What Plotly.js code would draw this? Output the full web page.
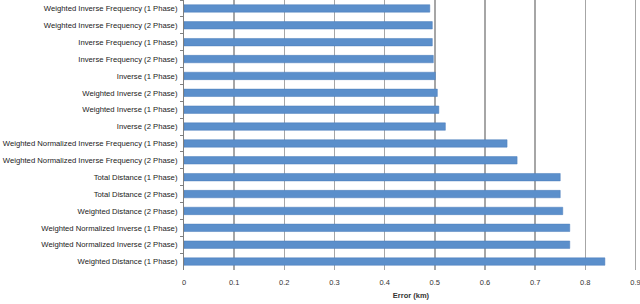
<!DOCTYPE html>
<html><head><meta charset="utf-8">
<script src="https://cdn.plot.ly/plotly-3.0.1.min.js"></script>
<style>html,body{margin:0;padding:0;background:#fff}#c{width:640px;height:304px}</style>
</head><body><div id="c"></div>
<script>
const methods = [
  "Weighted Inverse Frequency (1 Phase)",
  "Weighted Inverse Frequency (2 Phase)",
  "Inverse Frequency (1 Phase)",
  "Inverse Frequency (2 Phase)",
  "Inverse (1 Phase)",
  "Weighted Inverse (2 Phase)",
  "Weighted Inverse (1 Phase)",
  "Inverse (2 Phase)",
  "Weighted Normalized Inverse Frequency (1 Phase)",
  "Weighted Normalized Inverse Frequency (2 Phase)",
  "Total Distance (1 Phase)",
  "Total Distance (2 Phase)",
  "Weighted Distance (2 Phase)",
  "Weighted Normalized Inverse (1 Phase)",
  "Weighted Normalized Inverse (2 Phase)",
  "Weighted Distance (1 Phase)"
];
const errorKm = [0.490, 0.495, 0.495, 0.497, 0.501, 0.505, 0.508, 0.521,
                 0.644, 0.664, 0.750, 0.750, 0.755, 0.769, 0.769, 0.839];
const xTicks = [0, 0.1, 0.2, 0.3, 0.4, 0.5, 0.6, 0.7, 0.8, 0.9];

const font = "Liberation Sans, Arial, sans-serif";
Plotly.newPlot("c", [{
  type: "bar", orientation: "h",
  x: errorKm, y: methods,
  width: 0.44,
  marker: {color: "#5b8fcb", line: {color: "#4a7dbb", width: 0.5}},
  hoverinfo: "none"
}], {
  width: 640, height: 304,
  margin: {l: 184, r: 2, t: 0, b: 34},
  paper_bgcolor: "#fff", plot_bgcolor: "#fff",
  showlegend: false,
  bargap: 0.56,
  xaxis: {
    range: [0, 0.905], tickvals: xTicks, ticktext: xTicks.map(String),
    showgrid: true, gridcolor: "#a6a6a6", gridwidth: 1.5,
    zeroline: false, showline: false,
    ticks: "outside", ticklen: 5, tickcolor: "rgba(0,0,0,0)",
    ticklabeloverflow: "allow",
    tickfont: {family: font, size: 7.5, color: "#333"},
    title: {text: "<b>Error (km)</b>", font: {family: font, size: 7.5, color: "#333"}, standoff: 6},
    fixedrange: true
  },
  yaxis: {
    type: "category", autorange: "reversed",
    showline: true, linecolor: "#7f7f7f", linewidth: 1,
    ticks: "outside", ticklen: 3, tickcolor: "#7f7f7f", tickson: "boundaries",
    ticklabelstandoff: 4,
    showgrid: false, zeroline: false,
    tickfont: {family: font, size: 7.7, color: "#222"},
    fixedrange: true
  }
}, {staticPlot: true, displayModeBar: false});
</script></body></html>
